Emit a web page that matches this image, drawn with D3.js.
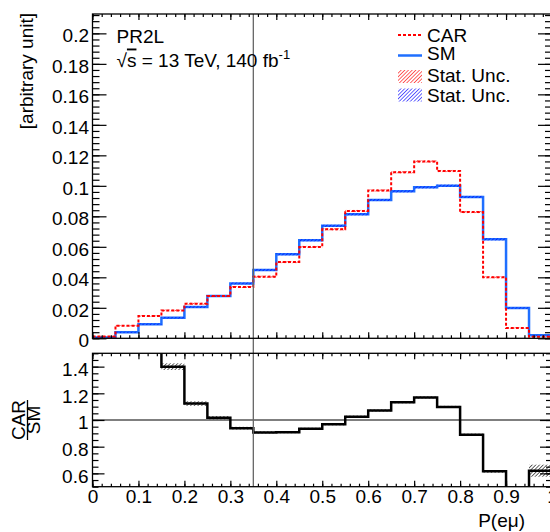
<!DOCTYPE html>
<html>

<head>
    <meta charset="utf-8">
    <style>
        body {
            margin: 0;
            background: #fff;
        }

        svg {
            font-family: 'Liberation Sans', Arial, Helvetica, sans-serif;
        }

        .axis .domain {
            display: none;
        }

        .axis .tick line {
            stroke: #000;
            stroke-width: 1.2;
        }

        .axis .tick text {
            font-size: 19px;
            fill: #000;
        }

        .frame {
            fill: none;
            stroke: #000;
            stroke-width: 1.3;
        }

        .label {
            font-size: 19px;
            fill: #000;
        }
    </style>
</head>

<body>
    <svg width="550" height="532"></svg>

    <script src="https://d3js.org/d3.v7.min.js"></script>
    <script>
        // bin edges of P(e mu), 20 bins
        let binEdges = [0, 0.05, 0.1, 0.15, 0.2, 0.25, 0.3, 0.35, 0.4, 0.45, 0.5,
            0.55, 0.6, 0.65, 0.7, 0.75, 0.8, 0.85, 0.9, 0.95, 1.0]

        let smValues = [0.0006, 0.0039, 0.0092, 0.0135, 0.0205, 0.0277, 0.0360, 0.0448, 0.0551, 0.0643,
            0.0738, 0.0813, 0.0907, 0.0964, 0.0990, 0.1001, 0.0927, 0.0649, 0.0199, 0.0020]
        let smErr = [0.0003, 0.0004, 0.0005, 0.0005, 0.0006, 0.0006, 0.0006, 0.0007, 0.0007, 0.0007,
            0.0007, 0.0007, 0.0007, 0.0007, 0.0007, 0.0007, 0.0007, 0.0007, 0.0005, 0.0003]

        let carValues = [0.0011, 0.0083, 0.0146, 0.0183, 0.0227, 0.0277, 0.0336, 0.0404, 0.0500, 0.0599,
            0.0715, 0.0835, 0.0970, 0.1089, 0.1160, 0.1097, 0.0828, 0.0400, 0.0068, 0.0010]
        let carErr = [0.0003, 0.0004, 0.0005, 0.0005, 0.0006, 0.0006, 0.0006, 0.0007, 0.0007, 0.0007,
            0.0007, 0.0007, 0.0007, 0.0007, 0.0007, 0.0007, 0.0007, 0.0006, 0.0004, 0.0003]

        let ratioValues = [2.0, 2.1, 1.6, 1.40, 1.123, 1.017, 0.939, 0.907, 0.909, 0.934,
            0.968, 1.025, 1.071, 1.133, 1.169, 1.098, 0.890, 0.615, 0.340, 0.620]
        let ratioErr = [0.30, 0.15, 0.05, 0.025, 0.017, 0.012, 0.010, 0.008, 0.008, 0.008,
            0.008, 0.008, 0.008, 0.008, 0.008, 0.008, 0.008, 0.010, 0.030, 0.045]

        let upperTicks = [0, 0.02, 0.04, 0.06, 0.08, 0.1, 0.12, 0.14, 0.16, 0.18, 0.2]
        let upperTickLabels = ["0", "0.02", "0.04", "0.06", "0.08", "0.1", "0.12", "0.14", "0.16", "0.18", "0.2"]
        let lowerTicks = [0.6, 0.8, 1, 1.2, 1.4]
        let lowerTickLabels = ["0.6", "0.8", "1", "1.2", "1.4"]
        let xTicks = [0, 0.1, 0.2, 0.3, 0.4, 0.5, 0.6, 0.7, 0.8, 0.9, 1]
        let xTickLabels = ["0", "0.1", "0.2", "0.3", "0.4", "0.5", "0.6", "0.7", "0.8", "0.9", "1"]

        let legendLabels = ["CAR", "SM", "Stat. Unc.", "Stat. Unc."]

        let red = "#ff0000"
        let blue = "#1f6fff"

        let svg = d3.select("svg")

        // panel geometry (ROOT style: plot runs a bit past the right edge)
        let left = 92.5, right = 552
        let upTop = 14, upBottom = 338.3
        let loTop = 353.3, loBottom = 486.7

        let x = d3.scaleLinear().domain([0, 1]).range([left, right])
        let yUp = d3.scaleLinear().domain([0, 0.2127]).range([upBottom, upTop])
        let yLo = d3.scaleLinear().domain([0.5, 1.5]).range([loBottom, loTop])

        // hatch patterns
        let defs = svg.append("defs")
        function hatch(id, color) {
            defs.append("pattern")
                .attr("id", id)
                .attr("patternUnits", "userSpaceOnUse")
                .attr("width", 2.6).attr("height", 4)
                .attr("patternTransform", "rotate(45)")
                .append("line")
                .attr("x1", 0).attr("y1", 0).attr("x2", 0).attr("y2", 4)
                .attr("stroke", color).attr("stroke-width", 1.2)
        }
        hatch("hatch-red", red)
        hatch("hatch-blue", "#0000ff")
        hatch("hatch-black", "#000")

        defs.append("clipPath").attr("id", "clip-up")
            .append("rect").attr("x", left).attr("y", upTop)
            .attr("width", right - left).attr("height", upBottom - upTop)
        defs.append("clipPath").attr("id", "clip-lo")
            .append("rect").attr("x", left).attr("y", loTop)
            .attr("width", right - left).attr("height", loBottom - loTop)

        let bins = d3.range(smValues.length)

        function stepPoints(vals) {
            let pts = vals.map((v, i) => [binEdges[i], v])
            pts.push([binEdges[vals.length], vals[vals.length - 1]])
            return pts
        }

        // ---------- upper panel ----------
        let up = svg.append("g").attr("clip-path", "url(#clip-up)")

        let lineUp = d3.line()
            .x(d => x(d[0]))
            .y(d => yUp(d[1]))
            .curve(d3.curveStepAfter)

        up.append("path")
            .datum(stepPoints(smValues))
            .attr("fill", "none")
            .attr("stroke", blue)
            .attr("stroke-width", 2.5)
            .attr("d", lineUp)

        up.selectAll(".sm-unc")
            .data(bins)
            .join("rect")
            .attr("class", "sm-unc")
            .attr("x", i => x(binEdges[i]))
            .attr("width", i => x(binEdges[i + 1]) - x(binEdges[i]))
            .attr("y", i => yUp(smValues[i] + smErr[i]))
            .attr("height", i => yUp(smValues[i] - smErr[i]) - yUp(smValues[i] + smErr[i]))
            .attr("fill", "url(#hatch-blue)")

        up.append("path")
            .datum(stepPoints(carValues))
            .attr("fill", "none")
            .attr("stroke", red)
            .attr("stroke-width", 2)
            .attr("stroke-dasharray", "3,2")
            .attr("d", lineUp)

        up.selectAll(".car-unc")
            .data(bins)
            .join("rect")
            .attr("class", "car-unc")
            .attr("x", i => x(binEdges[i]))
            .attr("width", i => x(binEdges[i + 1]) - x(binEdges[i]))
            .attr("y", i => yUp(carValues[i] + carErr[i]))
            .attr("height", i => yUp(carValues[i] - carErr[i]) - yUp(carValues[i] + carErr[i]))
            .attr("fill", "url(#hatch-red)")

        // ---------- lower panel ----------
        let lo = svg.append("g").attr("clip-path", "url(#clip-lo)")

        lo.append("line")
            .attr("x1", left).attr("x2", right)
            .attr("y1", yLo(1)).attr("y2", yLo(1))
            .attr("stroke", "#000").attr("stroke-width", 1.2)

        lo.selectAll(".ratio-unc")
            .data(bins)
            .join("rect")
            .attr("class", "ratio-unc")
            .attr("x", i => x(binEdges[i]))
            .attr("width", i => x(binEdges[i + 1]) - x(binEdges[i]))
            .attr("y", i => yLo(ratioValues[i] + ratioErr[i]))
            .attr("height", i => yLo(ratioValues[i] - ratioErr[i]) - yLo(ratioValues[i] + ratioErr[i]))
            .attr("fill", "url(#hatch-black)")

        let lineLo = d3.line()
            .x(d => x(d[0]))
            .y(d => yLo(d[1]))
            .curve(d3.curveStepAfter)

        lo.append("path")
            .datum(stepPoints(ratioValues))
            .attr("fill", "none")
            .attr("stroke", "#000")
            .attr("stroke-width", 2.5)
            .attr("d", lineLo)

        // cut line at P = 0.35 through both panels
        svg.append("line")
            .attr("x1", x(0.35)).attr("x2", x(0.35))
            .attr("y1", upTop).attr("y2", loBottom)
            .attr("stroke", "#666").attr("stroke-width", 1.3)

        // ---------- axes ----------
        let minorUp = d3.range(0, 0.2127, 0.004)
        let minorLo = d3.range(0.5, 1.5001, 0.05)
        let minorX = d3.range(0, 1.0001, 0.02)

        function addAxis(axis, tx, ty) {
            return svg.append("g")
                .attr("class", "axis")
                .attr("transform", `translate(${tx},${ty})`)
                .call(axis)
        }

        // upper y
        addAxis(d3.axisLeft(yUp).tickValues(minorUp).tickSize(-7).tickFormat(""), left, 0)
        addAxis(d3.axisLeft(yUp).tickValues(upperTicks).tickSize(-14).tickPadding(3.5)
            .tickFormat((d, i) => upperTickLabels[i]), left, 0)
            .selectAll("text").attr("dy", "0.44em")
        addAxis(d3.axisRight(yUp).tickValues(minorUp).tickSize(-7).tickFormat(""), right, 0)
        addAxis(d3.axisRight(yUp).tickValues(upperTicks).tickSize(-14).tickFormat(""), right, 0)

        // upper x (no labels)
        addAxis(d3.axisBottom(x).tickValues(minorX).tickSize(-3).tickFormat(""), 0, upBottom)
        addAxis(d3.axisBottom(x).tickValues(xTicks).tickSize(-6).tickFormat(""), 0, upBottom)
        addAxis(d3.axisTop(x).tickValues(minorX).tickSize(-3).tickFormat(""), 0, upTop)
        addAxis(d3.axisTop(x).tickValues(xTicks).tickSize(-6).tickFormat(""), 0, upTop)

        // lower y
        addAxis(d3.axisLeft(yLo).tickValues(minorLo).tickSize(-6).tickFormat(""), left, 0)
        addAxis(d3.axisLeft(yLo).tickValues(lowerTicks).tickSize(-12).tickPadding(4)
            .tickFormat((d, i) => lowerTickLabels[i]), left, 0)
            .selectAll("text").attr("dy", "0.46em")
        addAxis(d3.axisRight(yLo).tickValues(minorLo).tickSize(-6).tickFormat(""), right, 0)
        addAxis(d3.axisRight(yLo).tickValues(lowerTicks).tickSize(-12).tickFormat(""), right, 0)

        // lower x
        addAxis(d3.axisBottom(x).tickValues(minorX).tickSize(-3).tickFormat(""), 0, loBottom)
        addAxis(d3.axisBottom(x).tickValues(xTicks).tickSize(-6).tickPadding(3)
            .tickFormat((d, i) => xTickLabels[i]), 0, loBottom)
        addAxis(d3.axisTop(x).tickValues(minorX).tickSize(-3).tickFormat(""), 0, loTop)
        addAxis(d3.axisTop(x).tickValues(xTicks).tickSize(-6).tickFormat(""), 0, loTop)

        // frames
        svg.append("rect").attr("class", "frame")
            .attr("x", left).attr("y", upTop)
            .attr("width", right - left).attr("height", upBottom - upTop)
        svg.append("rect").attr("class", "frame")
            .attr("x", left).attr("y", loTop)
            .attr("width", right - left).attr("height", loBottom - loTop)

        // ---------- titles ----------
        svg.append("text")
            .attr("class", "label")
            .attr("text-anchor", "end")
            .attr("transform", "translate(33,13) rotate(-90)")
            .text("[arbitrary unit]")

        svg.append("text")
            .attr("class", "label")
            .attr("text-anchor", "end")
            .attr("x", 525).attr("y", 526.5)
            .text("P(eμ)")

        // CAR / SM fraction
        svg.append("text")
            .attr("class", "label")
            .attr("text-anchor", "middle")
            .attr("transform", "translate(25,420) rotate(-90)")
            .text("CAR")
        svg.append("text")
            .attr("class", "label")
            .attr("text-anchor", "middle")
            .attr("transform", "translate(40,420) rotate(-90)")
            .text("SM")
        svg.append("line")
            .attr("x1", 27.5).attr("x2", 27.5)
            .attr("y1", 400).attr("y2", 440)
            .attr("stroke", "#000").attr("stroke-width", 1.3)

        // annotations
        svg.append("text")
            .attr("class", "label")
            .attr("x", 116.5).attr("y", 43.3)
            .text("PR2L")

        let energy = svg.append("text")
            .attr("class", "label")
            .attr("x", 116.5).attr("y", 66.5)
        energy.append("tspan").text("√")
        energy.append("tspan").style("text-decoration", "overline").text("s")
        energy.append("tspan").text(" = 13 TeV, 140 fb")
        energy.append("tspan").attr("dy", -8).style("font-size", "13px").text("-1")

        // legend
        let legX = 398, legW = 24, legTextX = 427
        svg.append("line")
            .attr("x1", legX).attr("x2", legX + legW)
            .attr("y1", 35).attr("y2", 35)
            .attr("stroke", red).attr("stroke-width", 2).attr("stroke-dasharray", "3,2")
        svg.append("line")
            .attr("x1", legX).attr("x2", legX + legW)
            .attr("y1", 55.5).attr("y2", 55.5)
            .attr("stroke", blue).attr("stroke-width", 2.5)
        svg.append("rect")
            .attr("x", legX).attr("y", 70)
            .attr("width", legW).attr("height", 13)
            .attr("fill", "url(#hatch-red)")
        svg.append("rect")
            .attr("x", legX).attr("y", 88.5)
            .attr("width", legW).attr("height", 13)
            .attr("fill", "url(#hatch-blue)")

        let legY = [41.7, 60, 81.7, 101.7]
        svg.selectAll(".leg-text")
            .data(legendLabels)
            .join("text")
            .attr("class", "label leg-text")
            .attr("x", legTextX)
            .attr("y", (d, i) => legY[i])
            .text(d => d)
    </script>
</body>

</html>
